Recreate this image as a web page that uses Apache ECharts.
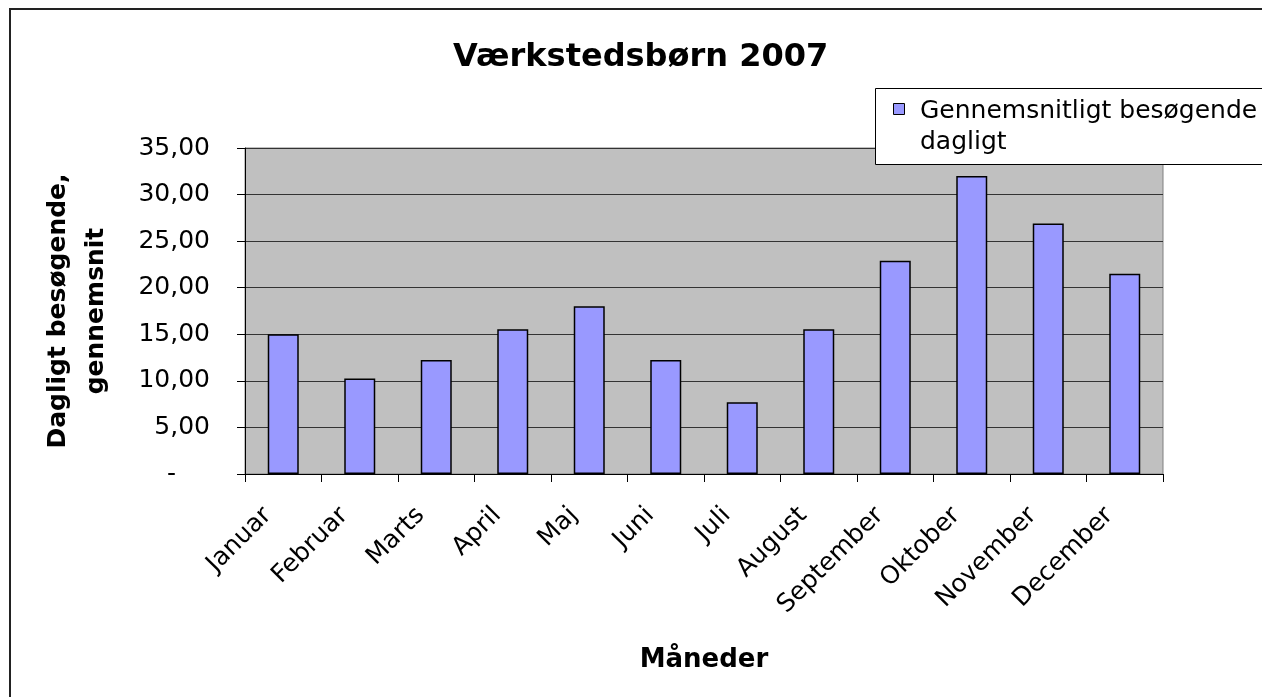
<!DOCTYPE html>
<html><head><meta charset="utf-8">
<script src="https://cdn.jsdelivr.net/npm/echarts@6/dist/echarts.min.js"></script>
<style>html,body{margin:0;padding:0;background:#fff}#c{width:1262px;height:697px}</style>
</head><body><div id="c"></div>
<script>
const months = ['Januar','Februar','Marts','April','Maj','Juni','Juli','August','September','Oktober','November','December'];
const visitors = [15.0, 10.25, 12.25, 15.55, 18.0, 12.25, 7.7, 15.55, 22.9, 32.0, 26.9, 21.5];
const yTickLabels = ['-', '5,00', '10,00', '15,00', '20,00', '25,00', '30,00', '35,00'];
const seriesName = 'Gennemsnitligt besøgende dagligt';
const legendLines = ['Gennemsnitligt besøgende', 'dagligt'];
const titleText = 'Værkstedsbørn 2007';
const xAxisTitle = 'Måneder';
const yAxisTitle = 'Dagligt besøgende,\ngennemsnit';

const FONT = 'DejaVu Sans';
const BAR = '#9999FF';
const chart = echarts.init(document.getElementById('c'), null, {renderer: 'canvas'});
chart.setOption({
  backgroundColor: '#fff',
  animation: false,
  title: {
    text: titleText, left: 448, top: 37,
    textStyle: {fontFamily: FONT, fontSize: 32, fontWeight: 'bold', color: '#000'}
  },
  grid: {
    left: 245, right: 99, top: 148, bottom: 223,
    show: true, backgroundColor: '#C0C0C0', borderColor: '#808080', borderWidth: 1
  },
  xAxis: {
    type: 'category', data: months,
    name: xAxisTitle, nameLocation: 'middle', nameGap: 173,
    nameTextStyle: {fontFamily: FONT, fontSize: 26, fontWeight: 'bold', color: '#000'},
    axisLine: {lineStyle: {color: '#000', width: 1}},
    axisTick: {show: true, length: 8, alignWithLabel: false, lineStyle: {color: '#000'}},
    axisLabel: {rotate: 45, margin: 22, interval: 0, padding: [0, 22, 0, 0],
      fontFamily: FONT, fontSize: 25, color: '#000'},
    splitLine: {show: false}
  },
  yAxis: {
    type: 'value', min: 0, max: 35, interval: 5,
    name: yAxisTitle, nameLocation: 'middle', nameGap: 130,
    nameTextStyle: {fontFamily: FONT, fontSize: 25, fontWeight: 'bold', color: '#000', lineHeight: 38},
    axisLine: {show: true, lineStyle: {color: '#000', width: 1}},
    axisTick: {show: true, length: 8, lineStyle: {color: '#000'}},
    axisLabel: {
      margin: 35, fontFamily: FONT, fontSize: 25, color: '#000',
      formatter: function (v) {
        const s = yTickLabels[Math.round(v / 5)];
        return v === 0 ? '{d|' + s + '}' : s;
      },
      rich: {d: {fontFamily: FONT, fontSize: 25, color: '#000', padding: [0, 34, 0, 0]}}
    },
    splitLine: {show: true, lineStyle: {color: '#333', width: 1}}
  },
  series: [{
    type: 'bar', name: seriesName, data: visitors, barWidth: 31,
    itemStyle: {color: BAR, borderColor: '#000', borderWidth: 1.5}
  }],
  graphic: [
    {type: 'rect', z: 100, shape: {x: 10, y: 9, width: 1400, height: 800},
     style: {fill: 'none', stroke: '#222', lineWidth: 2}},
    {type: 'rect', z: 100, shape: {x: 875.5, y: 88.5, width: 500, height: 76},
     style: {fill: '#fff', stroke: '#000', lineWidth: 1}},
    {type: 'rect', z: 101, shape: {x: 893.5, y: 103.5, width: 11, height: 11},
     style: {fill: BAR, stroke: '#000', lineWidth: 1}},
    {type: 'text', z: 101, x: 920, y: 111,
     style: {text: legendLines[0], fontFamily: FONT, fontSize: 25, fill: '#000', verticalAlign: 'middle'}},
    {type: 'text', z: 101, x: 920, y: 142,
     style: {text: legendLines[1], fontFamily: FONT, fontSize: 25, fill: '#000', verticalAlign: 'middle'}}
  ]
});
</script></body></html>
